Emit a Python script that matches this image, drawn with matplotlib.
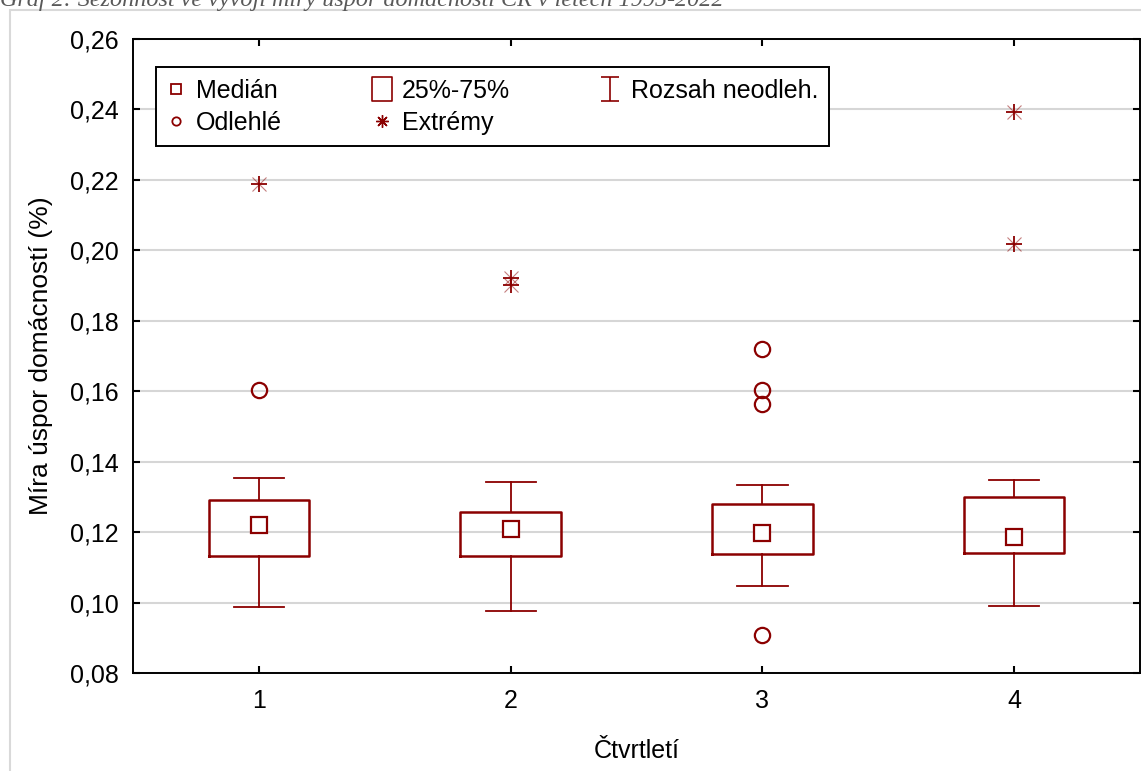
import numpy as np
import matplotlib
matplotlib.use("Agg")
import matplotlib.pyplot as plt
from matplotlib.lines import Line2D
from matplotlib.patches import Rectangle
from matplotlib.path import Path
from matplotlib.ticker import FuncFormatter

plt.rcParams['font.family'] = ['Liberation Sans', 'DejaVu Sans']

# Data
quarters = [1, 2, 3, 4]
whisk_lo = [0.0989, 0.0977, 0.1048, 0.0990]
q1 = [0.1134, 0.1134, 0.1139, 0.1142]
median = [0.1221, 0.1209, 0.1197, 0.1186]
q3 = [0.1292, 0.1258, 0.1281, 0.1300]
whisk_hi = [0.1353, 0.1342, 0.1333, 0.1347]
outliers = {1: [0.1603], 2: [], 3: [0.1721, 0.1603, 0.1563, 0.0908], 4: []}
extremes = {1: [0.2187], 2: [0.1921, 0.1901], 3: [], 4: [0.2393, 0.2017]}

title = "Graf 2: Sezónnost ve vývoji míry úspor domácností ČR v letech 1995-2022"
xlabel = "Čtvrtletí"
ylabel = "Míra úspor domácností (%)"
labels = ["Medián", "25%-75%", "Rozsah neodleh.", "Odlehlé", "Extrémy"]

RED = "#8b0000"
W, H = 1141, 771
FS = 18

fig = plt.figure(figsize=(W / 100, H / 100), dpi=100)
ax = fig.add_axes([133.3 / W, 1 - 673.3 / H, (1140 - 133.3) / W, (673.3 - 38.7) / H])

# boxes
stats = []
for i in range(len(quarters)):
    stats.append(dict(med=median[i], q1=q1[i], q3=q3[i],
                      whislo=whisk_lo[i], whishi=whisk_hi[i], fliers=[]))
ax.bxp(stats, positions=quarters, widths=0.4, showfliers=False,
       boxprops=dict(color=RED, lw=1.8),
       whiskerprops=dict(color=RED, lw=1.3),
       capprops=dict(color=RED, lw=1.3),
       capwidths=0.2,
       medianprops=dict(lw=0))
ax.plot(quarters, median, ls='none', marker='s', ms=11, mfc='white', mec=RED, mew=1.6, zorder=4)

# outliers and extremes
for q in quarters:
    if outliers[q]:
        ax.plot([q] * len(outliers[q]), outliers[q], ls='none', marker='o', ms=11,
                mfc='none', mec=RED, mew=1.6)
    if extremes[q]:
        ax.plot([q] * len(extremes[q]), extremes[q], ls='none', marker='+', ms=12,
                mec=RED, mew=1.3)
        ax.plot([q] * len(extremes[q]), extremes[q], ls='none', marker='x', ms=10,
                mec=RED, mew=0.8, alpha=0.5)

ax.set_xlim(0.5, 4.5)
ax.set_ylim(0.08, 0.26)
ax.set_xticks(quarters)
ax.set_yticks(np.arange(0.08, 0.2601, 0.02))
ax.yaxis.set_major_formatter(FuncFormatter(lambda v, p: f"{v:.2f}".replace('.', ',')))
ax.tick_params(direction='in', length=5, width=1.5, labelsize=FS,
               top=True, right=True)
ax.tick_params(axis='x', pad=11)
ax.tick_params(axis='y', pad=10.5)
ax.grid(axis='y', color='#d6d6d6', lw=1.5)
ax.set_axisbelow(True)
for s in ax.spines.values():
    s.set_linewidth(1.4)

ax.set_xlabel(xlabel, fontsize=FS)
ax.xaxis.set_label_coords(0.5, -0.103)
ax.set_ylabel(ylabel, fontsize=19)
ax.yaxis.set_label_coords(-0.0798, 0.5)

# legend
ibeam = Path([(-0.75, 1), (0.75, 1), (0, 1), (0, -1), (-0.75, -1), (0.75, -1)],
             [Path.MOVETO, Path.LINETO, Path.MOVETO, Path.LINETO, Path.MOVETO, Path.LINETO])
tallbox = Path([(-0.82, -1), (0.82, -1), (0.82, 1), (-0.82, 1), (-0.82, -1)],
               [Path.MOVETO, Path.LINETO, Path.LINETO, Path.LINETO, Path.CLOSEPOLY])
handles = [
    Line2D([], [], ls='none', marker='s', ms=6.5, mfc='white', mec=RED, mew=1.3),
    Line2D([], [], ls='none', marker='o', ms=6, mfc='white', mec=RED, mew=1.3),
    Line2D([], [], ls='none', marker=tallbox, ms=17, mfc='none', mec=RED, mew=1.2),
    Line2D([], [], ls='none', marker=(8, 2, 0), ms=9, mec=RED, mew=1.0),
    Line2D([], [], ls='none', marker=ibeam, ms=17, mfc='none', mec=RED, mew=1.2),
]
leg_labels = [labels[0], labels[3], labels[1], labels[4], labels[2]]
lx = (155.7 - 133.3) / 1006.7
ly = (673.3 - 67.3) / 634.6
leg = ax.legend(handles, leg_labels, ncol=3, loc='upper left',
                bbox_to_anchor=(lx, ly),
                fontsize=FS, frameon=True, fancybox=False, edgecolor='black',
                handlelength=0.7, handletextpad=0.46, labelspacing=0.34,
                columnspacing=3.65, borderpad=0.45, borderaxespad=0)
leg.get_frame().set_linewidth(1.4)
leg.get_frame().set_alpha(1)

# outer frame and cut-off title
fig.add_artist(Rectangle((10 / W, -0.05), 1.2, 1.05 - 10 / H, transform=fig.transFigure,
                         fill=False, edgecolor='#d9d9d9', lw=1.5))
fig.text(0.0, 1 - 6 / H, title, fontsize=17.4, family='Liberation Serif', style='italic',
         color='#595959', va='baseline', ha='left')

fig.savefig("out.png", dpi=100)
